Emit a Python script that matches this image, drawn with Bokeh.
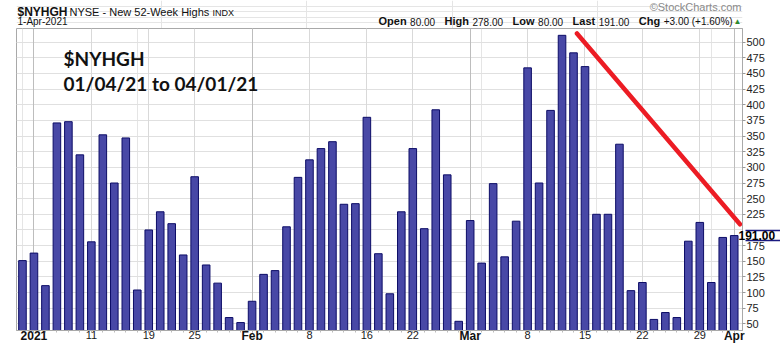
from bokeh.plotting import figure
from bokeh.layouts import column
from bokeh.models import (LinearAxis, FixedTicker, Grid, Label,
                          ColumnDataSource, Range1d)
from bokeh.embed import file_html
from bokeh.resources import INLINE

# ---------------- data ----------------
dates = ["2020-12-31",
         "2021-01-04", "2021-01-05", "2021-01-06", "2021-01-07", "2021-01-08",
         "2021-01-11", "2021-01-12", "2021-01-13", "2021-01-14", "2021-01-15",
         "2021-01-19", "2021-01-20", "2021-01-21", "2021-01-22",
         "2021-01-25", "2021-01-26", "2021-01-27", "2021-01-28", "2021-01-29",
         "2021-02-01", "2021-02-02", "2021-02-03", "2021-02-04", "2021-02-05",
         "2021-02-08", "2021-02-09", "2021-02-10", "2021-02-11", "2021-02-12",
         "2021-02-16", "2021-02-17", "2021-02-18", "2021-02-19",
         "2021-02-22", "2021-02-23", "2021-02-24", "2021-02-25", "2021-02-26",
         "2021-03-01", "2021-03-02", "2021-03-03", "2021-03-04", "2021-03-05",
         "2021-03-08", "2021-03-09", "2021-03-10", "2021-03-11", "2021-03-12",
         "2021-03-15", "2021-03-16", "2021-03-17", "2021-03-18", "2021-03-19",
         "2021-03-22", "2021-03-23", "2021-03-24", "2021-03-25", "2021-03-26",
         "2021-03-29", "2021-03-30", "2021-03-31", "2021-04-01"]
new_highs = [151,
             163, 111, 371, 373, 320,
             181, 352, 275, 347, 104,
             200, 229, 210, 160,
             285, 144, 115, 60, 52,
             86, 129, 135, 205, 284,
             312, 330, 341, 241, 242,
             380, 162, 98, 229,
             330, 202, 392, 288, 54,
             215, 147, 274, 157, 214,
             459, 275, 391, 511, 483,
             461, 225, 225, 337, 103,
             116, 57, 68, 60, 182,
             212, 116, 188, 191]

day_tick_dates = ["2021-01-11", "2021-01-19", "2021-01-25", "2021-02-08", "2021-02-16",
                  "2021-02-22", "2021-03-08", "2021-03-15", "2021-03-22", "2021-03-29"]
day_tick_labels = ["11", "19", "25", "8", "16", "22", "8", "15", "22", "29"]
month_tick_dates = ["2021-01-04", "2021-02-01", "2021-03-01", "2021-04-01"]
month_tick_labels = ["2021", "Feb", "Mar", "Apr"]
y_ticks = list(range(50, 501, 25))

# hand-drawn trend line (bar position, value)
trend_x = [48.3, 62.5]
trend_y = [514, 209]

last_value = 191.00

# ---------------- geometry ----------------
W = 780
HEAD_H = 28
MAIN_H = 317
LEFT, RIGHT, BOTTOM = 16, 38, 15
TAG_HALF = 8.5          # half height of the last-value box, in value units

idx = list(range(len(dates)))
pos = {d: i for i, d in enumerate(dates)}
day_idx = [pos[d] for d in day_tick_dates]
month_idx = [pos[d] for d in month_tick_dates]

# ---------------- header ----------------
head = figure(width=W, height=HEAD_H, output_backend="svg", toolbar_location=None,
              x_axis_location=None, y_axis_location=None,
              x_range=Range1d(0, 1), y_range=Range1d(0, 1),
              min_border_left=LEFT, min_border_right=RIGHT,
              min_border_top=0, min_border_bottom=0, outline_line_color=None,
              background_fill_color="white", border_fill_color="white")


def htext(txt, X, Yb, size, bold=False, color="#111111", align="left"):
    # Yb = baseline position; placed by its vertical middle
    px = float(size.replace("px", ""))
    ymid = Yb - 0.33 * px
    head.add_layout(Label(x=X - LEFT, y=HEAD_H - ymid, x_units="screen", y_units="screen",
                          text=txt, text_font="Liberation Sans", text_font_size=size,
                          text_font_style="bold" if bold else "normal",
                          text_color=color, text_align=align,
                          text_baseline="middle"))


htext("$NYHGH", 17, 15.5, "12px", bold=True)
htext("NYSE - New 52-Week Highs", 69, 15.5, "11px")
htext("INDX", 212, 15.5, "9px")
htext("1-Apr-2021", 17, 24.5, "10px")
htext("\u00a9StockCharts.com", 741, 10.5, "11px", color="#8a8a8a", align="right")

header = [("Open", 378, True), ("80.00", 409.6, False),
          ("High", 444.1, True), ("278.00", 472, False),
          ("Low", 512.1, True), ("80.00", 537.6, False),
          ("Last", 572.1, True), ("191.00", 598.2, False),
          ("Chg", 638.3, True), ("+3.00 (+1.60%)", 663.2, False)]
for txt, X, b in header:
    htext(txt, X, 24.5, "11px" if b else "10px", bold=b)
htext("\u25b2", 733, 23.5, "8px", color="#2e8b2e")

# ---------------- main chart ----------------
p = figure(width=W, height=MAIN_H, output_backend="svg", toolbar_location=None,
           x_axis_location=None, y_axis_location=None,
           x_range=Range1d(-0.52, 62.72), y_range=Range1d(39.3, 521.9),
           min_border_left=LEFT, min_border_right=RIGHT,
           min_border_top=0, min_border_bottom=BOTTOM,
           background_fill_color="white", border_fill_color="white",
           outline_line_color="#a9a9a9")

p.add_layout(Grid(dimension=1, ticker=FixedTicker(ticks=y_ticks),
                  grid_line_color="#e0e0e0", grid_line_width=1))
p.add_layout(Grid(dimension=0, ticker=FixedTicker(ticks=day_idx),
                  grid_line_color="#d9d9d9", grid_line_width=1))
p.add_layout(Grid(dimension=0, ticker=FixedTicker(ticks=month_idx),
                  grid_line_color="#bdbdbd", grid_line_width=1))

src = ColumnDataSource(dict(i=idx, v=new_highs, d=dates))
p.vbar(x="i", top="v", bottom=0, width=0.66, source=src,
       fill_color="#4848a6", line_color="#0c0c66", line_width=1)

p.line(trend_x, trend_y, line_color="#ec1c24", line_width=4.5, line_cap="round")

# price scale (200 sits under the last-value tag)
price_ticks = [t for t in y_ticks if t != 200]
ya = LinearAxis(ticker=FixedTicker(ticks=price_ticks),
                major_label_text_font="Liberation Sans",
                major_label_text_font_size="11px",
                major_label_text_color="#222222",
                major_tick_out=3, major_tick_in=0,
                minor_tick_out=0, minor_tick_in=0,
                major_tick_line_color="#999999",
                axis_line_color="#a9a9a9", major_label_standoff=1)
p.add_layout(ya, "right")

# last-value tag: bold value, box edges drawn as long minor ticks
tag_axis = LinearAxis(ticker=FixedTicker(ticks=[last_value],
                                         minor_ticks=[last_value - TAG_HALF,
                                                      last_value + TAG_HALF]),
                      major_label_overrides={last_value: f"{last_value:.2f}"},
                      major_label_text_font="Liberation Sans",
                      major_label_text_font_style="bold",
                      major_label_text_font_size="12px",
                      major_label_text_color="#000000",
                      major_tick_out=0, major_tick_in=0,
                      major_tick_line_color=None,
                      minor_tick_in=22, minor_tick_out=16,
                      minor_tick_line_color="#1a1a80", minor_tick_line_width=1.5,
                      axis_line_color=None, major_label_standoff=-45)
p.add_layout(tag_axis, "right")

# bottom date axis: day numbers (regular) ...
overrides = {i: t for i, t in zip(day_idx, day_tick_labels)}
overrides.update({i: "" for i in month_idx})
xa = LinearAxis(ticker=FixedTicker(ticks=day_idx + month_idx, minor_ticks=idx),
                major_label_overrides=overrides,
                major_label_text_font="Liberation Sans",
                major_label_text_font_size="11px",
                major_label_text_color="#1a1a1a",
                major_tick_out=2, major_tick_in=0,
                minor_tick_out=2, minor_tick_in=0,
                major_tick_line_color="#999999", minor_tick_line_color="#bbbbbb",
                axis_line_color="#a9a9a9", major_label_standoff=-2)
p.add_layout(xa, "below")
# ... and month / year names (bold) on the same row
xm = LinearAxis(ticker=FixedTicker(ticks=month_idx, minor_ticks=[]),
                major_label_overrides={i: t for i, t in zip(month_idx, month_tick_labels)},
                major_label_text_font="Liberation Sans",
                major_label_text_font_style="bold",
                major_label_text_font_size="12px",
                major_label_text_color="#111111",
                major_tick_out=0, major_tick_in=0,
                minor_tick_out=0, minor_tick_in=0,
                major_tick_line_color=None, minor_tick_line_color=None,
                axis_line_color=None, major_label_standoff=-13)
p.add_layout(xm, "below")

# chart annotation text inside the plot
for txt, X, Y in [("$NYHGH", 47, 30), ("01/04/21 to 04/01/21", 47, 55)]:
    p.add_layout(Label(x=X, y=MAIN_H - BOTTOM - Y, x_units="screen", y_units="screen",
                       text=txt, text_font="Lato", text_font_style="bold",
                       text_font_size="19px", text_color="#111111",
                       text_baseline="alphabetic"))

layout = column(head, p, spacing=0)
open("out.html", "w").write(file_html(layout, INLINE))
